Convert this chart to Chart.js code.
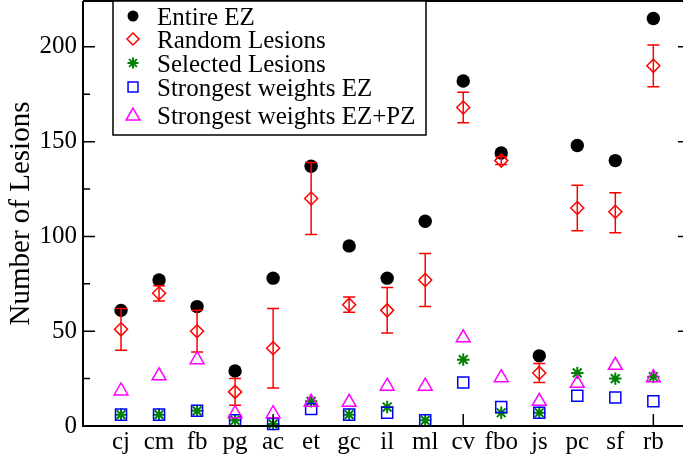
<!DOCTYPE html>
<html><head><meta charset="utf-8">
<script src="https://cdn.jsdelivr.net/npm/chart.js@4.4.0/dist/chart.umd.min.js"></script>
<style>html,body{margin:0;padding:0;background:#fff;overflow:hidden}#wrap{width:683px;height:454px;position:relative}</style>
</head><body><div id="wrap"><canvas id="c" width="683" height="454"></canvas></div>
<script>
const categories = ['cj','cm','fb','pg','ac','et','gc','il','ml','cv','fbo','js','pc','sf','rb'];
const entireEZ = [61,77,63,29,78,137,95,78,108,182,144,37,148,140,215];
const randomLesions = [51,70,50,18,41,120,64,61,77,168,140,28,115,113,190];
const randomLow = [40,66,39,11,20,101,60,49,63,160,138,23,103,102,179];
const randomHigh = [62,74,61,25,62,139,68,73,91,176,142,33,127,123,201];
const selectedLesions = [6,6,8,3,1,13,6,10,3,35,7,7,28,25,26];
const strongestEZ = [6,6,8,3,1,9,6,7,3,23,10,7,16,15,13];
const strongestEZPZ = [18.5,26.5,35,6.5,6.5,12.5,12.5,21,21,46.5,25.5,13,22.5,32,25.5];
const yTicks = [0,50,100,150,200];
const yMinorTicks = [25,75,125,175];
const xMajorTicks = [5,10,15];
const seriesNames = ['Entire EZ','Random Lesions','Selected Lesions','Strongest weights EZ','Strongest weights EZ+PZ'];

const FONT = 'Liberation Serif';
const pts = arr => arr.map((v,i)=>({x:i+1,y:v}));
const styles = [
  {pointStyle:'circle', radius:6.7, bg:'#000000', border:'#000000', bw:0, legendRadius:5.5},
  {pointStyle:'rectRot', radius:6.5, bg:'rgba(0,0,0,0)', border:'#ff0000', bw:1.5, legendRadius:6},
  {pointStyle:'star', radius:6.2, bg:'rgba(0,0,0,0)', border:'#008000', bw:2, legendRadius:5.5},
  {pointStyle:'rect', radius:7.8, bg:'rgba(0,0,0,0)', border:'#0000ff', bw:1.5, legendRadius:7},
  {pointStyle:'triangle', radius:8, bg:'rgba(0,0,0,0)', border:'#ff00ff', bw:1.5, legendRadius:8}
];
const seriesData = [entireEZ, randomLesions, selectedLesions, strongestEZ, strongestEZPZ];

const datasets = seriesData.map((d,k)=>({
  label: seriesNames[k],
  data: pts(d),
  pointStyle: styles[k].pointStyle,
  pointRadius: styles[k].radius,
  pointHoverRadius: styles[k].radius,
  backgroundColor: styles[k].bg,
  borderColor: styles[k].border,
  pointBorderWidth: styles[k].bw,
  borderWidth: styles[k].bw,
  showLine: false,
  clip: false,
  order: 5-k
}));

const errorBars = {
  id:'errorBars',
  beforeDatasetDraw(chart, args){
    if(args.index!==1) return;
    const ctx = chart.ctx, xs = chart.scales.x, ys = chart.scales.y;
    ctx.save();
    ctx.strokeStyle = '#ff0000';
    ctx.lineWidth = 1.5;
    randomLesions.forEach((v,i)=>{
      const x = xs.getPixelForValue(i+1);
      const yl = ys.getPixelForValue(randomLow[i]);
      const yh = ys.getPixelForValue(randomHigh[i]);
      ctx.beginPath();
      ctx.moveTo(x, yl); ctx.lineTo(x, yh);
      ctx.moveTo(x-6, yl); ctx.lineTo(x+6, yl);
      ctx.moveTo(x-6, yh); ctx.lineTo(x+6, yh);
      ctx.stroke();
    });
    ctx.restore();
  }
};

const frame = {
  id:'frame',
  afterDraw(chart){
    const ctx = chart.ctx, a = chart.chartArea, xs = chart.scales.x, ys = chart.scales.y;
    ctx.save();
    ctx.strokeStyle = '#000';
    ctx.lineWidth = 2;
    ctx.beginPath();
    ctx.moveTo(a.left, a.top); ctx.lineTo(a.left, a.bottom); ctx.lineTo(a.right, a.bottom);
    ctx.moveTo(a.left, a.top); ctx.lineTo(a.right, a.top);
    ctx.stroke();
    ctx.lineWidth = 1.5;
    ctx.beginPath();
    yTicks.forEach(v=>{ const y = ys.getPixelForValue(v); ctx.moveTo(a.left, y); ctx.lineTo(a.left+12, y); ctx.moveTo(a.right-5, y); ctx.lineTo(a.right, y); });
    yMinorTicks.forEach(v=>{ const y = ys.getPixelForValue(v); ctx.moveTo(a.left, y); ctx.lineTo(a.left+7, y); });
    xMajorTicks.forEach(v=>{ const x = xs.getPixelForValue(v); ctx.moveTo(x, a.bottom); ctx.lineTo(x, a.bottom-12); });
    ctx.stroke();
    // legend
    const L = {x:113, y:1, w:313, h:134};
    ctx.fillStyle = '#fff';
    ctx.fillRect(L.x, L.y, L.w, L.h);
    ctx.lineWidth = 1.5;
    ctx.strokeRect(L.x, L.y, L.w, L.h);
    const rowsY = [16, 39, 63, 87, 115];
    seriesNames.forEach((name,k)=>{
      const s = styles[k];
      ctx.fillStyle = s.bg; ctx.strokeStyle = s.border; ctx.lineWidth = s.bw;
      Chart.helpers.drawPoint(ctx, {pointStyle:s.pointStyle, radius:s.legendRadius, rotation:0, borderWidth:s.bw}, 133, rowsY[k] + (k===4?1:0));
      ctx.fillStyle = '#000';
      ctx.font = '25px "' + FONT + '"';
      ctx.textBaseline = 'alphabetic';
      ctx.textAlign = 'left';
      ctx.fillText(name, 157, rowsY[k] + 8.5);
    });
    ctx.restore();
  }
};

function zeroPad(s){
  s.paddingLeft = 0; s.paddingRight = 0; s.paddingTop = 0; s.paddingBottom = 0;
}

new Chart(document.getElementById('c'), {
  type:'scatter',
  data:{datasets},
  options:{
    responsive:false, animation:false, devicePixelRatio:1,
    layout:{autoPadding:false, padding:{top:1,left:0,right:0,bottom:0}},
    plugins:{legend:{display:false}, tooltip:{enabled:false}},
    scales:{
      x:{
        type:'linear', min:0, max:15.78,
        afterFit(s){ s.height = 28; zeroPad(s); },
        afterBuildTicks(s){ s.ticks = categories.map((c,i)=>({value:i+1})); },
        grid:{display:false, drawTicks:false},
        border:{display:false},
        ticks:{autoSkip:false, maxRotation:0, padding:1, color:'#000', font:{family:FONT, size:25},
          callback:(v)=>categories[Math.round(v)-1] ?? ''}
      },
      y:{
        type:'linear', min:0, max:224.2,
        afterFit(s){ s.width = 83; zeroPad(s); },
        afterBuildTicks(s){ s.ticks = yTicks.map(v=>({value:v})); },
        grid:{display:false, drawTicks:false},
        border:{display:false},
        ticks:{padding:6, color:'#000', font:{family:FONT, size:25}},
        title:{display:true, text:'Number of Lesions', color:'#000', font:{family:FONT, size:29}, padding:{top:4,bottom:0}}
      }
    }
  },
  plugins:[errorBars, frame]
});
</script></body></html>
